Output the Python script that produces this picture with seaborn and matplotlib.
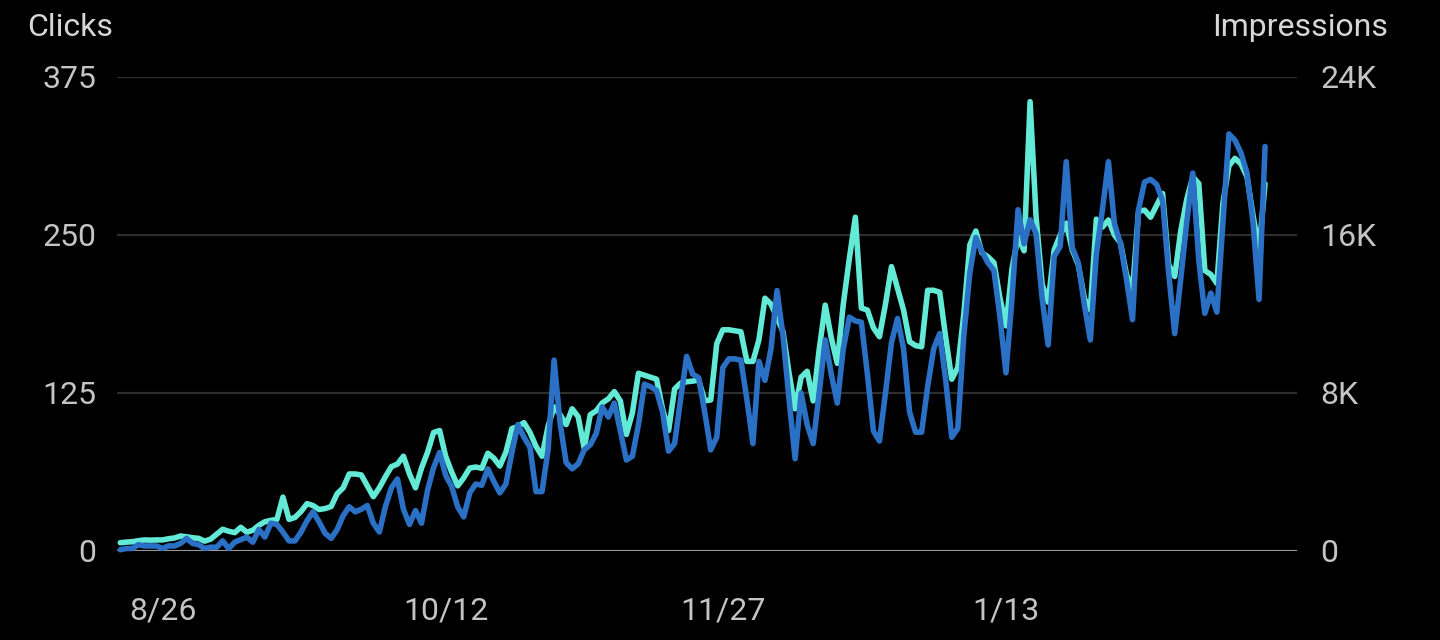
import pandas as pd
import matplotlib.pyplot as plt
import matplotlib.dates as mdates
from matplotlib.ticker import FuncFormatter
import seaborn as sns

# daily values (Search Console style, dark theme)
start_date = '2018-08-19'

clicks = [
    1, 2, 2, 5, 4, 4, 4, 2, 4, 4,
    6, 10, 6, 5, 2, 3, 3, 8, 2, 7,
    9, 11, 7, 17, 11, 22, 21, 15, 8, 8,
    15, 24, 31, 23, 14, 10, 17, 28, 35, 31,
    33, 36, 22, 15, 35, 50, 57, 33, 21, 32,
    22, 48, 66, 78, 60, 51, 35, 27, 46, 53,
    52, 65, 55, 46, 53, 78, 100, 90, 82, 47,
    47, 80, 151, 101, 70, 65, 69, 80, 84, 93,
    114, 106, 117, 95, 72, 75, 100, 132, 130, 127,
    110, 79, 85, 120, 154, 140, 137, 110, 80, 90,
    145, 152, 152, 151, 120, 85, 150, 135, 160, 206,
    170, 120, 73, 125, 100, 85, 125, 167, 140, 117,
    160, 185, 182, 181, 140, 95, 87, 125, 165, 184,
    160, 110, 94, 94, 130, 160, 172, 135, 90, 97,
    170, 220, 248, 237, 228, 222, 185, 141, 200, 270,
    243, 262, 251, 200, 163, 233, 241, 308, 240, 228,
    195, 167, 235, 270, 308, 259, 243, 215, 183, 270,
    292, 294, 290, 277, 220, 172, 215, 260, 299, 230,
    188, 204, 189, 260, 330, 325, 315, 299, 260, 199,
    320,
]

# impressions in thousands
impressions_k = [
    0.42, 0.45, 0.47, 0.52, 0.56, 0.55, 0.56, 0.56, 0.62, 0.66,
    0.76, 0.72, 0.67, 0.64, 0.5, 0.6, 0.85, 1.1, 1.0, 0.93,
    1.2, 0.95, 1.05, 1.3, 1.48, 1.55, 1.6, 2.73, 1.6, 1.7,
    2.0, 2.4, 2.3, 2.1, 2.15, 2.25, 2.9, 3.2, 3.9, 3.9,
    3.85, 3.3, 2.75, 3.2, 3.76, 4.27, 4.4, 4.8, 3.9, 3.2,
    4.2, 5.0, 6.0, 6.1, 4.8, 4.0, 3.3, 3.7, 4.2, 4.25,
    4.19, 4.95, 4.7, 4.3, 5.0, 6.2, 6.3, 6.5, 6.0, 5.3,
    4.8, 6.3, 7.3, 6.9, 6.4, 7.2, 6.8, 5.2, 6.9, 7.1,
    7.5, 7.7, 8.07, 7.6, 5.9, 7.0, 9.0, 8.9, 8.8, 8.7,
    7.2, 6.1, 8.2, 8.5, 8.57, 8.6, 8.66, 7.6, 7.65, 10.5,
    11.2, 11.2, 11.15, 11.1, 9.6, 9.6, 10.7, 12.8, 12.5, 11.8,
    11.1, 9.0, 7.2, 8.8, 9.1, 7.6, 10.2, 12.45, 10.8, 9.5,
    12.5, 14.8, 16.9, 12.3, 12.2, 11.3, 10.85, 12.5, 14.4, 13.3,
    12.2, 10.6, 10.4, 10.34, 13.2, 13.2, 13.1, 10.8, 8.7, 9.3,
    12.0, 15.5, 16.2, 15.1, 14.9, 14.6, 12.8, 11.4, 14.3, 15.9,
    15.2, 22.75, 16.9, 13.5, 12.6, 15.24, 16.0, 16.6, 15.24, 14.5,
    12.8, 12.2, 16.8, 16.4, 16.76, 16.0, 15.6, 14.0, 13.2, 17.2,
    17.26, 16.9, 17.5, 18.1, 14.5, 13.9, 16.2, 17.8, 18.95, 18.6,
    14.2, 14.0, 13.55, 17.6, 19.5, 19.88, 19.6, 18.95, 17.0, 15.24,
    18.6,
]

click_ticks = [0, 125, 250, 375]
impression_ticks = [0, 8000, 16000, 24000]
date_ticks = ['2018-08-26', '2018-10-12', '2018-11-27', '2019-01-13']

dates = pd.date_range(start_date, periods=len(clicks), freq='D')
df = pd.DataFrame({'date': dates,
                   'clicks': clicks,
                   'impressions': [v * 1000 for v in impressions_k]})

sns.set_style('dark', {'axes.facecolor': 'black', 'figure.facecolor': 'black'})
plt.rcParams['font.family'] = ['Roboto', 'DejaVu Sans']

blue = '#2a70c4'
cyan = '#62ead6'
text_col = '#c4c4c4'

fig = plt.figure(figsize=(14.4, 6.4), dpi=100, facecolor='black')
ax = fig.add_axes([117 / 1440, 1 - 551 / 640, (1297 - 117) / 1440, (551 - 77) / 640])
ax2 = ax.twinx()

# impressions underneath, clicks on top
sns.lineplot(data=df, x='date', y='impressions', ax=ax2, color=cyan,
             linewidth=4.0, clip_on=False)
sns.lineplot(data=df, x='date', y='clicks', ax=ax, color=blue,
             linewidth=4.0, clip_on=False)
ax.set_zorder(ax2.get_zorder() + 1)
ax.patch.set_visible(False)
ax2.patch.set_visible(False)

ax.set_ylim(0, 375)
ax2.set_ylim(0, 24000)
ax.set_yticks(click_ticks)
ax2.set_yticks(impression_ticks)
ax2.yaxis.set_major_formatter(FuncFormatter(lambda v, p: '0' if v == 0 else f'{int(v / 1000)}K'))

x0 = pd.Timestamp(start_date)
ax.set_xlim(x0 - pd.Timedelta(hours=13), x0 + pd.Timedelta(days=195.3))
ax.set_xticks(pd.to_datetime(date_ticks))
ax.xaxis.set_major_formatter(FuncFormatter(
    lambda v, p: f'{mdates.num2date(v).month}/{mdates.num2date(v).day}'))

# grid on the lower axes so it stays under the lines
ax2.grid(axis='y', color='#2e2e2e', linewidth=1.6)
ax2.axhline(0, color='#9a9a9a', linewidth=2.2, zorder=1.5)
ax.grid(False)

for a in (ax, ax2):
    for s in a.spines.values():
        s.set_visible(False)
    a.set_xlabel('')
    a.set_ylabel('')

ax.tick_params(axis='y', length=0, labelsize=23, labelcolor=text_col, pad=15)
ax2.tick_params(axis='y', length=0, labelsize=23, labelcolor=text_col, pad=17)
ax.tick_params(axis='x', length=0, labelsize=23, labelcolor=text_col, pad=33)

fig.text(27 / 1440, 1 - 28 / 640, 'Clicks', ha='left', va='center',
         fontsize=23, color='#d6d6d6')
fig.text(1388 / 1440, 1 - 28 / 640, 'Impressions', ha='right', va='center',
         fontsize=23, color='#d6d6d6')

fig.savefig('out.png', dpi=100, facecolor='black')
